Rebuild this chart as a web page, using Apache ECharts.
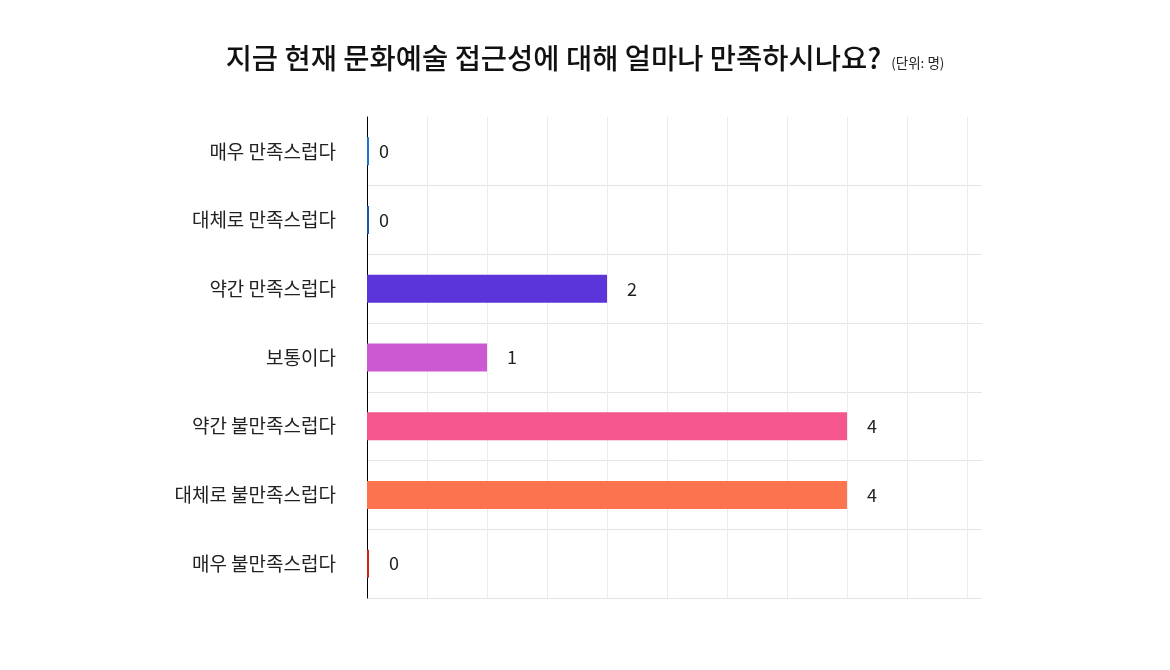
<!DOCTYPE html>
<html>
<head>
<meta charset="utf-8">
<script src="https://cdn.jsdelivr.net/npm/echarts@6/dist/echarts.min.js"></script>
<style>
  html, body { margin: 0; padding: 0; background: #fff; }
  #mainChart { width: 1170px; height: 670px; }
</style>
</head>
<body>
<div id="mainChart"></div>
<script>
	// 응답 항목 / 응답 수
	var categories = ['매우 만족스럽다', '대체로 만족스럽다', '약간 만족스럽다', '보통이다', '약간 불만족스럽다', '대체로 불만족스럽다', '매우 불만족스럽다'];
	var counts = [0, 0, 2, 1, 4, 4, 0];
	var barColors = ['#1a74d6', '#1c52b3', '#5b35d9', '#cc59d2', '#f5568d', '#fb744f', '#d2231b'];

	var myChart = echarts.init(document.getElementById('mainChart'));

	var fontFamily = '"Noto Sans CJK KR", "Noto Sans", sans-serif';

	var seriesData = [];
	for (var i = 0; i < counts.length; i++) {
		seriesData.push({
			value : counts[i],
			itemStyle : { color : barColors[i] },
			label : { distance : (counts[i] === 0 && i < 2) ? 10 : 20 }
		});
	}

	var option = {
		backgroundColor : '#ffffff',
		title : {
			text : '{a|지금 현재 문화예술 접근성에 대해 얼마나 만족하시나요?}  {b|(단위: 명)}',
			left : 'center',
			top : 39,
			textStyle : {
				rich : {
					a : { fontFamily : fontFamily, fontSize : 28.5, fontWeight : 500, color : '#111' },
					b : { fontFamily : fontFamily, fontSize : 13.5, fontWeight : 'normal', color : '#222', padding : [10, 0, 0, 0] }
				}
			}
		},
		grid : {
			left : 367,
			right : 188,
			top : 117,
			bottom : 72
		},
		xAxis : {
			type : 'value',
			min : 0,
			max : 5.125,
			interval : 0.5,
			axisLine : { show : false },
			axisTick : { show : false },
			axisLabel : { show : false },
			splitLine : {
				show : true,
				showMaxLine : false,
				lineStyle : { color : '#ececec', width : 1 }
			}
		},
		yAxis : {
			type : 'category',
			inverse : true,
			data : categories,
			axisLine : { show : true, lineStyle : { color : '#000', width : 1 } },
			axisTick : { show : false },
			axisLabel : {
				margin : 31,
				fontFamily : fontFamily,
				fontSize : 19,
				color : '#222'
			},
			splitLine : {
				show : true,
				showMinLine : false,
				lineStyle : { color : '#e4e4e4', width : 1 }
			}
		},
		series : [ {
			name : '응답 수',
			type : 'bar',
			barWidth : 28,
			barMinHeight : 2,
			data : seriesData,
			label : {
				show : true,
				position : 'right',
				fontFamily : fontFamily,
				fontSize : 18,
				color : '#222'
			}
		} ]
	};
	myChart.setOption(option, true);
</script>
</body>
</html>
